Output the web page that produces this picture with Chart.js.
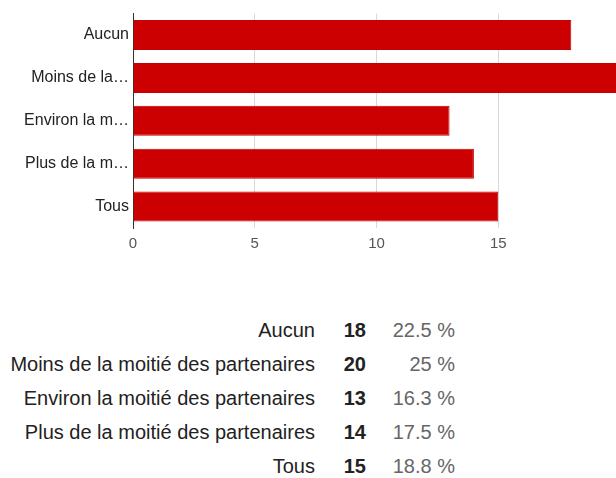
<!DOCTYPE html>
<html>
<head>
<meta charset="utf-8">
<script src="https://cdn.jsdelivr.net/npm/chart.js@4/dist/chart.umd.min.js"></script>
<style>
  body { margin: 0; width: 616px; height: 478px; overflow: hidden; background: #fff; font-family: Arial, "Liberation Sans", sans-serif; }
  #wrap { position: absolute; left: 0; top: 0; width: 640px; height: 260px; }
  #summary { position: absolute; top: 313px; left: 0; border-collapse: collapse; font-size: 20px; }
  #summary td { padding: 0; height: 34px; line-height: 34px; white-space: nowrap; }
  #summary td.lbl { width: 315px; text-align: right; color: #222; }
  #summary td.cnt { width: 51px; text-align: right; font-weight: bold; color: #222; }
  #summary td.pct { width: 89px; text-align: right; color: #666; }
</style>
</head>
<body>
<div id="wrap"><canvas id="bars"></canvas></div>
<table id="summary"></table>
<script>
const categories = ["Aucun", "Moins de la moitié des partenaires", "Environ la moitié des partenaires", "Plus de la moitié des partenaires", "Tous"];
const shortLabels = ["Aucun", "Moins de la…", "Environ la m…", "Plus de la m…", "Tous"];
const counts = [18, 20, 13, 14, 15];
const xTicks = [0, 5, 10, 15];

const total = counts.reduce((a, b) => a + b, 0);

// summary table under the chart
const table = document.getElementById("summary");
categories.forEach((name, i) => {
    const pct = Math.round(counts[i] / total * 1000) / 10;
    const row = table.insertRow();
    row.innerHTML = `<td class="lbl">${name}</td><td class="cnt">${counts[i]}</td><td class="pct">${pct} %</td>`;
});

Chart.defaults.font.family = 'Arial, "Liberation Sans", sans-serif';

new Chart(document.getElementById("bars"), {
    type: "bar",
    data: {
        labels: shortLabels,
        datasets: [{
            data: counts,
            backgroundColor: "#cc0000",
            borderColor: "#c40000",
            borderWidth: 1,
            barPercentage: 0.7,
            categoryPercentage: 1
        }]
    },
    options: {
        indexAxis: "y",
        responsive: true,
        maintainAspectRatio: false,
        animation: false,
        layout: { padding: { top: 12, right: 20, left: 0, bottom: 0 } },
        plugins: { legend: { display: false }, tooltip: { enabled: false } },
        scales: {
            x: {
                min: 0,
                max: 20,
                afterBuildTicks: (axis) => { axis.ticks = xTicks.map(v => ({ value: v })); },
                afterFit: (axis) => { axis.height = 32; },
                grid: { color: "#d8d8d8", drawTicks: false },
                border: { display: false },
                ticks: { color: "#555", font: { size: 15 }, padding: 7 }
            },
            y: {
                afterFit: (axis) => { axis.width = 133; },
                grid: { display: false, drawTicks: false },
                border: { color: "#333", width: 1 },
                ticks: { color: "#222", font: { size: 16 }, padding: 4 }
            }
        }
    }
});
</script>
</body>
</html>
